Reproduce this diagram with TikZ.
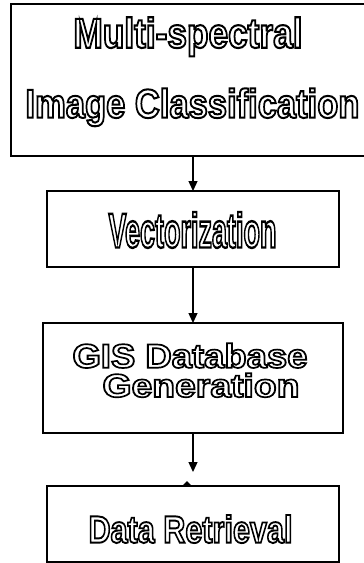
\documentclass[tikz,border=0pt]{standalone}
\usepackage{fontspec}
\setmainfont{Liberation Sans}
\usetikzlibrary{arrows.meta}
\newcommand\olt[1]{\special{pdf:literal direct 1 Tr 1.5 w}#1\special{pdf:literal direct 0 Tr}}
\newcommand\otext[3]{\resizebox{#1pt}{#2pt}{\fontsize{30}{30}\selectfont\bfseries\olt{#3}}}
\tikzset{
  box/.style={draw=black, line width=1.6pt, rectangle, inner sep=0pt, outer sep=0pt},
  lbl/.style={anchor=base, inner sep=0pt, outer sep=0pt},
  arr/.style={draw=black, line width=1.3pt, -{Triangle[width=9pt,length=10pt]}},
}
\begin{document}
\begin{tikzpicture}[x=1pt,y=-1pt]
\useasboundingbox (0,0) rectangle (364,563);
\clip (0,0) rectangle (364,563);
\fill[white] (0,0) rectangle (364,563);
% boxes
\node[box, minimum width=357pt, minimum height=152pt] (b1) at (189.5,80) {};
\node[box, minimum width=292pt, minimum height=76pt] (b2) at (193,229) {};
\node[box, minimum width=300pt, minimum height=110pt] (b3) at (193,378) {};
\node[box, minimum width=292pt, minimum height=76pt] (b4) at (193,524) {};
% labels
\node[lbl] (t1a) at (188,47.7) {\otext{229}{30.4}{Multi-spectral}};
\node[lbl] (t1b) at (192.5,117.7) {\otext{334}{29.4}{Image Classification}};
\node[lbl] (t2) at (192.5,247.5) {\otext{168}{35.5}{Vectorization}};
\node[lbl] (t3a) at (190,367.7) {\otext{235}{24.4}{GIS Database}};
\node[lbl] (t3b) at (201,397) {\otext{197}{23.7}{Generation}};
\node[lbl] (t4) at (190.5,542.7) {\otext{204}{27.7}{Data Retrieval}};
% connectors
\draw[arr] (b1.south -| b2.north) -- (b2.north);
\draw[arr] (b2.south) -- (b3.north);
\coordinate (a3end) at (193,472);
\draw[arr] (b3.south) -- (a3end);
\fill[black] (182,486) -- (187,481) -- (192,486) -- cycle;
\end{tikzpicture}
\end{document}
